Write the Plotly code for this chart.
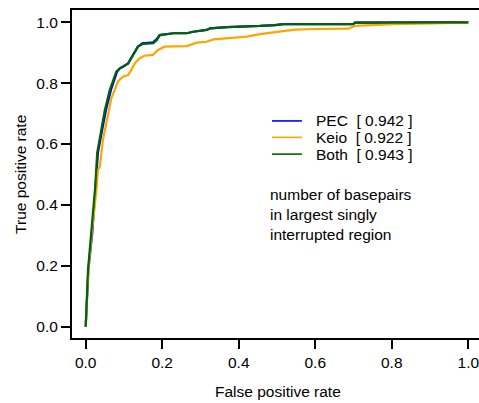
import plotly.graph_objects as go

# ROC curves (false positive rate, true positive rate)
both_fpr = [0.0, 0.006, 0.0146, 0.019, 0.025, 0.030, 0.041, 0.050, 0.063, 0.071, 0.080, 0.089,
            0.097, 0.111, 0.124, 0.137, 0.150, 0.177, 0.186, 0.194, 0.229, 0.264, 0.281, 0.316,
            0.325, 0.369, 0.456, 0.473, 0.495, 0.516, 0.699, 0.704, 0.996, 1.0]
both_tpr = [0.0, 0.186, 0.312, 0.374, 0.460, 0.571, 0.646, 0.712, 0.778, 0.805, 0.838, 0.849,
            0.854, 0.865, 0.893, 0.920, 0.929, 0.931, 0.942, 0.958, 0.964, 0.964, 0.969, 0.975,
            0.980, 0.984, 0.988, 0.989, 0.991, 0.994, 0.994, 0.999, 1.0, 1.0]

pec_fpr = [0.0, 0.007, 0.0175, 0.021, 0.026, 0.032, 0.043, 0.053, 0.066, 0.074, 0.082, 0.090,
           0.098, 0.111, 0.124, 0.136, 0.148, 0.176, 0.185, 0.193, 0.229, 0.264, 0.281, 0.316,
           0.325, 0.369, 0.456, 0.473, 0.495, 0.516, 0.699, 0.704, 0.996, 1.0]
pec_tpr = [0.0, 0.186, 0.312, 0.374, 0.460, 0.571, 0.646, 0.712, 0.778, 0.805, 0.838, 0.849,
           0.854, 0.865, 0.893, 0.920, 0.931, 0.934, 0.944, 0.958, 0.964, 0.964, 0.969, 0.975,
           0.980, 0.984, 0.988, 0.989, 0.991, 0.994, 0.994, 0.999, 1.0, 1.0]

keio_fpr = [0.0, 0.007, 0.016, 0.022, 0.028, 0.032, 0.037, 0.045, 0.058, 0.067, 0.076, 0.084,
            0.097, 0.111, 0.119, 0.128, 0.141, 0.154, 0.176, 0.189, 0.206, 0.241, 0.264, 0.290,
            0.316, 0.334, 0.369, 0.421, 0.456, 0.469, 0.495, 0.521, 0.547, 0.604, 0.686, 0.704,
            0.748, 0.804, 0.909, 0.944, 0.996, 1.0]
keio_tpr = [0.0, 0.186, 0.311, 0.374, 0.449, 0.515, 0.526, 0.613, 0.701, 0.750, 0.778, 0.805,
            0.821, 0.827, 0.843, 0.865, 0.882, 0.890, 0.893, 0.909, 0.920, 0.922, 0.922, 0.933,
            0.936, 0.944, 0.947, 0.953, 0.961, 0.964, 0.968, 0.972, 0.976, 0.978, 0.979, 0.988,
            0.991, 0.994, 0.996, 0.998, 1.0, 1.0]

series_names = ["PEC", "Keio", "Both"]
series_auc = ["0.942", "0.922", "0.943"]
series_colors = ["#0000FF", "#FFA500", "#006400"]
series_fpr = [pec_fpr, keio_fpr, both_fpr]
series_tpr = [pec_tpr, keio_tpr, both_tpr]

tick_vals = [0.0, 0.2, 0.4, 0.6, 0.8, 1.0]
tick_text = ["0.0", "0.2", "0.4", "0.6", "0.8", "1.0"]

legend_note = "number of basepairs<br>in largest singly<br>interrupted region"

FONT = "Liberation Sans, Arial, Helvetica, sans-serif"
FS = 15.5

fig = go.Figure()
for name, fpr, tpr, col in zip(series_names, series_fpr, series_tpr, series_colors):
    fig.add_trace(go.Scatter(x=fpr, y=tpr, mode="lines", name=name,
                             line=dict(color=col, width=2.2), showlegend=False))

# manual legend (R-style)
leg_rows_y = [0.676, 0.622, 0.567]
shapes = []
annotations = []
for name, auc, col, ry in zip(series_names, series_auc, series_colors, leg_rows_y):
    shapes.append(dict(type="line", xref="x", yref="y", x0=0.487, x1=0.565, y0=ry, y1=ry,
                       line=dict(color=col, width=1.6)))
    annotations.append(dict(xref="x", yref="y", x=0.598, y=ry, xanchor="left", yanchor="middle",
                            text=f"{name}\u00a0\u00a0[\u00a0{auc}\u00a0]", showarrow=False,
                            font=dict(family=FONT, size=FS, color="black")))
annotations.append(dict(xref="x", yref="y", x=0.476, y=0.369, xanchor="left", yanchor="middle",
                        align="left", text=legend_note, showarrow=False,
                        font=dict(family=FONT, size=FS, color="black")))
# axis titles
annotations.append(dict(xref="paper", yref="paper", x=0.505, y=-0.164, xanchor="center",
                        yanchor="middle", text="False positive rate", showarrow=False,
                        font=dict(family=FONT, size=FS, color="black")))
annotations.append(dict(xref="paper", yref="paper", x=-0.128, y=0.5, xanchor="center",
                        yanchor="middle", text="True positive rate", textangle=-90,
                        showarrow=False, font=dict(family=FONT, size=FS, color="black")))

fig.update_layout(
    width=479, height=403, autosize=False,
    margin=dict(l=72, r=0, t=10, b=65, pad=0),
    paper_bgcolor="white", plot_bgcolor="white",
    font=dict(family=FONT, size=FS, color="black"),
    shapes=shapes, annotations=annotations, showlegend=False,
)
fig.update_xaxes(range=[-0.0358, 1.0280], tickvals=tick_vals, ticktext=tick_text,
                 showgrid=False, zeroline=False, showline=True, linecolor="black", linewidth=2,
                 mirror=True, ticks="outside", ticklen=9, tickwidth=1.8, tickcolor="black",
                 ticklabeloverflow="allow",
                 tickfont=dict(family=FONT, size=FS, color="black"))
fig.update_yaxes(range=[-0.0371, 1.0404], tickvals=tick_vals, ticktext=tick_text,
                 showgrid=False, zeroline=False, showline=True, linecolor="black", linewidth=2,
                 ticks="outside", ticklen=9, tickwidth=1.8, tickcolor="black",
                 ticklabeloverflow="allow",
                 tickfont=dict(family=FONT, size=FS, color="black"))

fig.write_html("out.html")
